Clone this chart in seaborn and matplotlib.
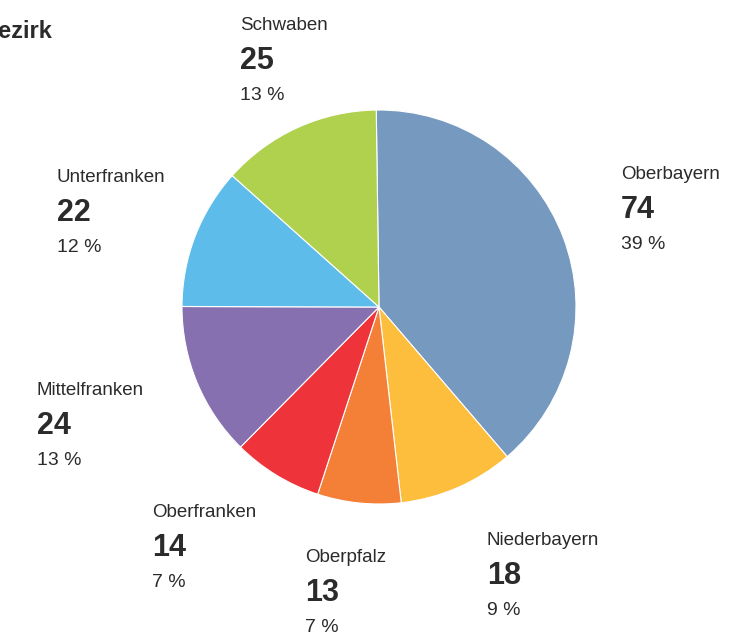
import matplotlib
matplotlib.use("Agg")
import matplotlib.pyplot as plt
import seaborn as sns

sns.set_theme(style="white")
plt.rcParams['font.family'] = ['Liberation Sans', 'DejaVu Sans']

# Data
bezirke = ["Oberbayern", "Niederbayern", "Oberpfalz", "Oberfranken",
           "Mittelfranken", "Unterfranken", "Schwaben"]
anzahl = [74, 18, 13, 14, 24, 22, 25]
anteil = ["39 %", "9 %", "7 %", "7 %", "13 %", "12 %", "13 %"]
farben = ["#7699C0", "#FCBE3C", "#F47F37", "#EE343A",
          "#8670B0", "#5EBCEA", "#AFD14E"]

# label anchor (left x, name baseline y) in pixels
label_px = {
    "Oberbayern": (621, 179),
    "Niederbayern": (487, 545),
    "Oberpfalz": (305, 562),
    "Oberfranken": (152, 517),
    "Mittelfranken": (37, 395),
    "Unterfranken": (57, 182),
    "Schwaben": (240, 30),
}

W, H = 743, 636
fig = plt.figure(figsize=(W / 100, H / 100), dpi=100)
fig.patch.set_facecolor("white")

cx, cy, r = 379, 307, 197
ax = fig.add_axes([(cx - r) / W, 1 - (cy + r) / H, 2 * r / W, 2 * r / H])
ax.pie(anzahl, colors=farben, startangle=90.8, counterclock=False,
       wedgeprops=dict(edgecolor="white", linewidth=0.8))
ax.set_xlim(-1, 1)
ax.set_ylim(-1, 1)
ax.set_aspect("equal")
ax.axis("off")

txt = "#2b2b2b"
for name, n, pct in zip(bezirke, anzahl, anteil):
    x, y = label_px[name]
    fig.text(x / W, 1 - y / H, name, fontsize=13.5, color=txt, va="baseline", ha="left")
    fig.text(x / W, 1 - (y + 39) / H, str(n), fontsize=22, fontweight="bold",
             color=txt, va="baseline", ha="left")
    fig.text(x / W, 1 - (y + 70) / H, pct, fontsize=14, color=txt, va="baseline", ha="left")

# title, cut off at the left edge as in the reference
fig.text(52 / W, 1 - 38 / H, "Bezirk", fontsize=17, fontweight="bold",
         color=txt, va="baseline", ha="right")

fig.savefig("out.png", dpi=100)
